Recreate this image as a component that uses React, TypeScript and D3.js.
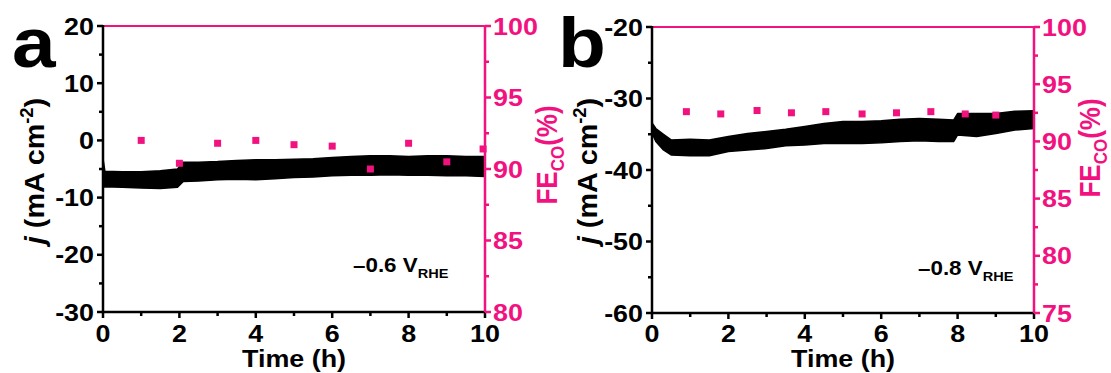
import * as d3 from "d3";
import React from "react";

// time (h) where the current band envelope was read
const timeA = [0, 0.05, 0.5, 1, 1.5, 1.95, 2.1, 2.5, 3, 3.5, 4, 4.5, 5, 5.5, 6, 6.5, 7, 7.5, 8, 8.5, 9, 9.5, 10];
const upperA = [-3.2, -5.4, -5.5, -5.5, -5.3, -5.0, -3.8, -3.8, -3.7, -3.5, -3.4, -3.4, -3.3, -3.2, -3.0, -2.8, -2.7, -2.7, -2.8, -2.7, -2.7, -2.8, -2.8];
const lowerA = [-8.2, -8.1, -8.2, -8.3, -8.4, -8.2, -7.2, -7.1, -6.9, -6.8, -6.9, -6.7, -6.5, -6.4, -6.2, -6.1, -6.1, -6.0, -6.1, -6.1, -6.2, -6.2, -6.3];
const feTimeA = [1, 2, 3, 4, 5, 6, 7, 8, 9, 9.95];
const feA = [92.0, 90.4, 91.8, 92.0, 91.7, 91.6, 90.0, 91.8, 90.5, 91.4];

const timeB = [0, 0.1, 0.3, 0.5, 1, 1.5, 2, 2.5, 3, 3.5, 4, 4.5, 5, 5.5, 6, 6.5, 7, 7.5, 7.9, 8.0, 8.5, 9, 9.5, 10];
const upperB = [-33.4, -34.2, -35.0, -35.8, -35.7, -35.8, -35.3, -34.9, -34.6, -34.3, -33.9, -33.5, -33.2, -33.2, -33.1, -32.9, -32.8, -32.9, -33.0, -32.1, -32.1, -32.1, -31.8, -31.7];
const lowerB = [-34.8, -36.0, -37.2, -37.9, -38.0, -38.0, -37.4, -37.2, -37.0, -36.6, -36.5, -36.3, -36.3, -36.3, -36.2, -36.0, -35.9, -36.0, -36.0, -35.1, -35.3, -34.9, -34.4, -34.2];
const feTimeB = [0.9, 1.8, 2.75, 3.65, 4.55, 5.5, 6.4, 7.3, 8.2, 9.0];
const feB = [92.6, 92.4, 92.7, 92.5, 92.6, 92.4, 92.5, 92.6, 92.4, 92.3];

const xTicks = [0, 2, 4, 6, 8, 10];
const xMinor = [1, 3, 5, 7, 9];
const yTicksA = [-30, -20, -10, 0, 10, 20];
const yMinorA = [-25, -15, -5, 5, 15];
const yTicksB = [-60, -50, -40, -30, -20];
const yMinorB = [-55, -45, -35, -25];
const feTicksA = [80, 85, 90, 95, 100];
const feMinorA = [82.5, 87.5, 92.5, 97.5];
const feTicksB = [75, 80, 85, 90, 95, 100];
const feMinorB = [77.5, 82.5, 87.5, 92.5, 97.5];

const PINK = "#f2127f";
const FONT = "'Liberation Sans', Arial, sans-serif";
const SX = 1.12; // the source figure is a bit wider than tall

// text stretched horizontally like the original
const T: React.FC<{ x: number; y: number; rot?: number; size: number; anchor?: string; fill?: string; dy?: string; children: React.ReactNode }> =
  ({ x, y, rot = 0, size, anchor = "start", fill = "#000", dy, children }) => (
    <g transform={`translate(${x},${y}) rotate(${rot}) scale(${SX},1)`}>
      <text fontSize={size} textAnchor={anchor} fill={fill} dy={dy}>{children}</text>
    </g>
  );

type PanelProps = {
  letter: string; potential: string;
  left: number; right: number; top: number; bottom: number;
  time: number[]; upper: number[]; lower: number[];
  feTime: number[]; fe: number[];
  yDomain: [number, number]; yTicks: number[]; yMinor: number[];
  feDomain: [number, number]; feTicks: number[]; feMinor: number[];
  letterX: number; yLabelX: number; feLabelX: number; feLabelY: number; noteX: number; noteY: number;
};

const Panel: React.FC<PanelProps> = (p) => {
  const x = d3.scaleLinear().domain([0, 10]).range([p.left, p.right]);
  const y = d3.scaleLinear().domain(p.yDomain).range([p.bottom, p.top]);
  const yr = d3.scaleLinear().domain(p.feDomain).range([p.bottom, p.top]);
  const band = d3.area<number>().x((_, i) => x(p.time[i])).y0((_, i) => y(p.lower[i])).y1((_, i) => y(p.upper[i]));
  return (
    <g fontFamily={FONT} fontWeight="bold">
      <T x={p.letterX} y={67} size={70}>{p.letter}</T>
      <path d={band(p.upper)!} fill="#000" stroke="#000" strokeWidth={1.5} strokeLinejoin="round" />
      {p.feTime.map((t, i) => (
        <rect key={i} x={x(t) - 3.5} y={yr(p.fe[i]) - 3.5} width={7} height={7} fill={PINK} />
      ))}
      {/* frame */}
      <line x1={p.left} x2={p.right} y1={p.top} y2={p.top} stroke={PINK} strokeWidth={2} />
      <line x1={p.left} x2={p.left} y1={p.top - 1} y2={p.bottom + 1} stroke="#000" strokeWidth={2.5} />
      <line x1={p.left} x2={p.right} y1={p.bottom} y2={p.bottom} stroke="#000" strokeWidth={2.5} />
      <line x1={p.right} x2={p.right} y1={p.top - 1} y2={p.bottom + 1} stroke={PINK} strokeWidth={2.5} />
      {/* x axis */}
      {xTicks.map(t => (
        <g key={t}>
          <line x1={x(t)} x2={x(t)} y1={p.bottom} y2={p.bottom + 6} stroke="#000" strokeWidth={2.5} />
          <T x={x(t)} y={342} size={24} anchor="middle">{t}</T>
        </g>
      ))}
      {xMinor.map(t => <line key={t} x1={x(t)} x2={x(t)} y1={p.bottom} y2={p.bottom + 4} stroke="#000" strokeWidth={2.5} />)}
      <T x={(p.left + p.right) / 2} y={367} size={24} anchor="middle">Time (h)</T>
      {/* left axis */}
      {p.yTicks.map(t => (
        <g key={t}>
          <line x1={p.left - 6} x2={p.left} y1={y(t)} y2={y(t)} stroke="#000" strokeWidth={2.5} />
          <T x={p.left - 9} y={y(t)} dy="0.36em" size={24} anchor="end">{t}</T>
        </g>
      ))}
      {p.yMinor.map(t => <line key={t} x1={p.left - 4} x2={p.left} y1={y(t)} y2={y(t)} stroke="#000" strokeWidth={2.5} />)}
      <g transform={`translate(${p.yLabelX},171) rotate(-90) scale(1.15,1.1)`}>
        <text fontSize={25} textAnchor="middle">
          <tspan fontStyle="italic">j</tspan> (mA cm<tspan fontSize={16} dy={-10}>-2</tspan><tspan dy={10}>)</tspan>
        </text>
      </g>
      {/* right axis */}
      {p.feTicks.map(t => (
        <g key={t}>
          <line x1={p.right} x2={p.right + 6} y1={yr(t)} y2={yr(t)} stroke={PINK} strokeWidth={2.5} />
          <T x={p.right + 8} y={yr(t)} dy="0.36em" size={24} fill={PINK}>{t}</T>
        </g>
      ))}
      {p.feMinor.map(t => <line key={t} x1={p.right} x2={p.right + 4} y1={yr(t)} y2={yr(t)} stroke={PINK} strokeWidth={2.5} />)}
      <g transform={`translate(${p.feLabelX},${p.feLabelY}) rotate(-90) scale(1,1.1)`}>
        <text fontSize={26} fill={PINK} textAnchor="middle">
          FE<tspan fontSize={17} dy={6}>CO</tspan><tspan dy={-6}>(%)</tspan>
        </text>
      </g>
      {/* potential */}
      <T x={p.noteX} y={p.noteY} size={20}>
        {p.potential} V<tspan fontSize={13} dy={6}>RHE</tspan>
      </T>
    </g>
  );
};

export default function App() {
  return (
    <svg width={1111} height={373} style={{ position: "absolute", left: 0, top: 0, background: "#fff" }}>
      <Panel letter="a" potential="–0.6" left={103} right={485} top={26} bottom={312}
        time={timeA} upper={upperA} lower={lowerA} feTime={feTimeA} fe={feA}
        yDomain={[-30, 20]} yTicks={yTicksA} yMinor={yMinorA}
        feDomain={[80, 100]} feTicks={feTicksA} feMinor={feMinorA}
        letterX={12} yLabelX={44} feLabelX={557} feLabelY={155} noteX={353} noteY={272} />
      <Panel letter="b" potential="–0.8" left={652} right={1034} top={27} bottom={313}
        time={timeB} upper={upperB} lower={lowerB} feTime={feTimeB} fe={feB}
        yDomain={[-60, -20]} yTicks={yTicksB} yMinor={yMinorB}
        feDomain={[75, 100]} feTicks={feTicksB} feMinor={feMinorB}
        letterX={558} yLabelX={597} feLabelX={1100} feLabelY={148} noteX={918} noteY={275} />
    </svg>
  );
}
